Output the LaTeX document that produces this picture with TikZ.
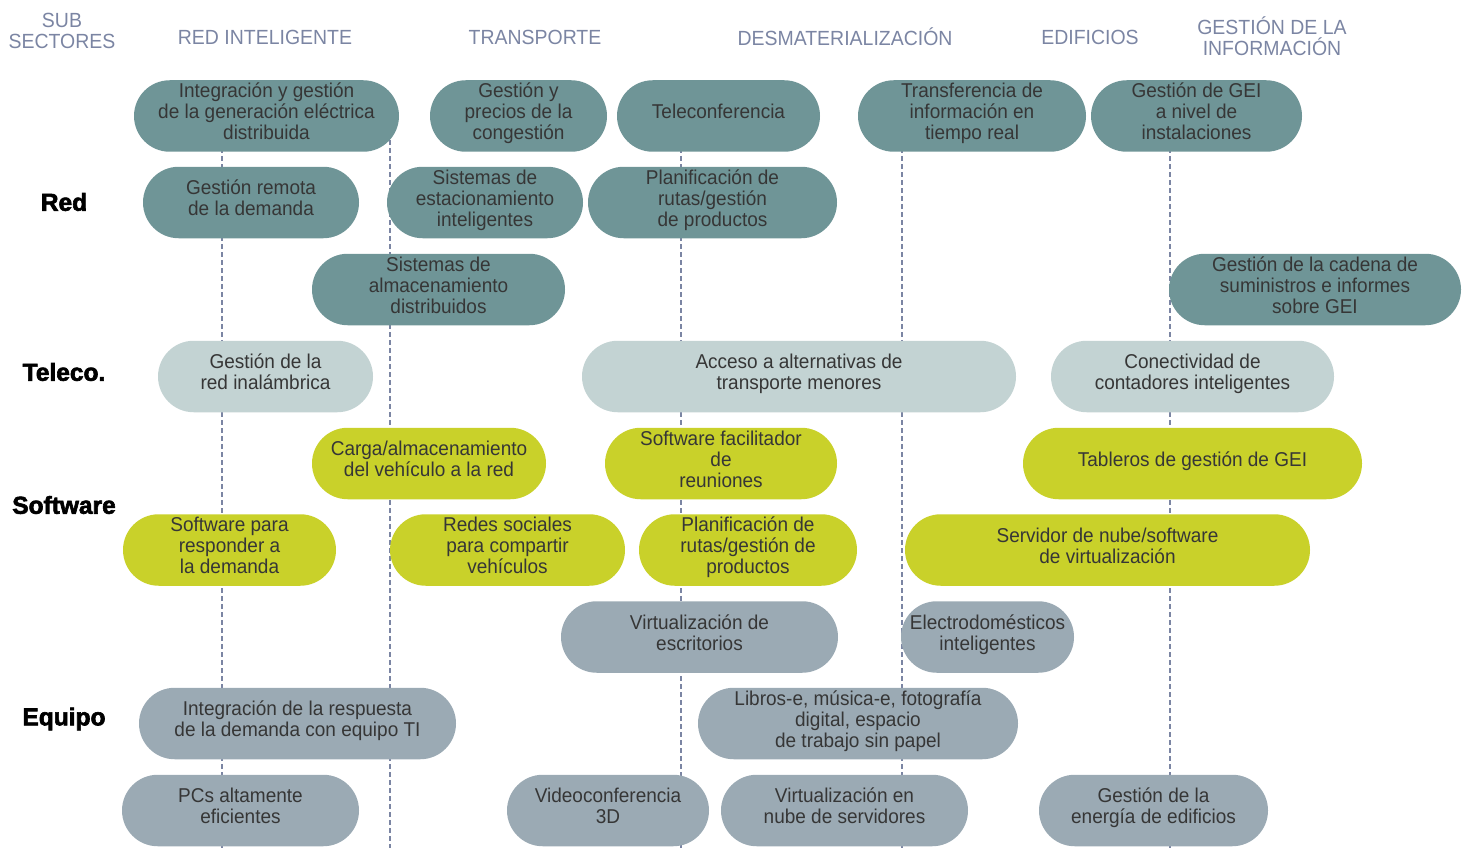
\documentclass[tikz,border=0pt]{standalone}
\usepackage{fontspec}
\setmainfont{Liberation Sans}[FakeStretch=0.95]
\newfontfamily\rowfont{Liberation Sans}[FakeBold=2.5]
\definecolor{cteal}{HTML}{6F9597}
\definecolor{clight}{HTML}{C3D3D3}
\definecolor{cyellow}{HTML}{C9D12A}
\definecolor{cgray}{HTML}{9BAAB4}
\definecolor{ctxt}{HTML}{363636}
\definecolor{chdr}{HTML}{7B85A3}
\tikzset{
  pill/.style={rounded corners=35.75pt, minimum height=71.5pt, inner sep=0pt, align=center,
    text=ctxt, font=\fontsize{20}{21}\selectfont,
    execute at end node={\rule[-9pt]{0pt}{1pt}}},
  rowteal/.style={pill, fill=cteal},
  rowlight/.style={pill, fill=clight},
  rowyellow/.style={pill, fill=cyellow},
  rowgray/.style={pill, fill=cgray},
  hdr/.style={text=chdr, inner sep=0pt, align=center, font=\fontsize{20.5}{21}\selectfont},
  rowlab/.style={text=black, inner sep=0pt, font=\rowfont\bfseries\fontsize{24.5}{25}\selectfont},
  guide/.style={chdr, line width=1.2pt, dash pattern=on 5pt off 3pt}
}
\begin{document}
\begin{tikzpicture}[x=1pt,y=-1pt]
\useasboundingbox (0,0) rectangle (1467,848);
% guide lines
\coordinate (g1a) at (222,140); \coordinate (g1b) at (222,848);
\coordinate (g2a) at (390,140); \coordinate (g2b) at (390,848);
\coordinate (g3a) at (681,140); \coordinate (g3b) at (681,848);
\coordinate (g4a) at (902,140); \coordinate (g4b) at (902,848);
\coordinate (g5a) at (1170,140); \coordinate (g5b) at (1170,848);
\draw[guide] (g1a) -- (g1b);
\draw[guide] (g2a) -- (g2b);
\draw[guide] (g3a) -- (g3b);
\draw[guide] (g4a) -- (g4b);
\draw[guide] (g5a) -- (g5b);
% headers
\node[hdr] (h0) at (62,31) {SUB\\SECTORES};
\node[hdr] (h1) at (265,37) {RED INTELIGENTE};
\node[hdr] (h2) at (535,37) {TRANSPORTE};
\node[hdr] (h3) at (845,37) {DESMATERIALIZACIÓN};
\node[hdr] (h4) at (1090,37) {EDIFICIOS};
\node[hdr] (h5) at (1272,36) {GESTIÓN DE LA\\INFORMACIÓN};
% row labels
\node[rowlab] (lred) at (64,202) {Red};
\node[rowlab] (ltel) at (64,372) {Teleco.};
\node[rowlab] (lsw) at (64,505) {Software};
\node[rowlab] (leq) at (64,719) {Equipo};
% row 1
\node[rowteal, minimum width=265pt] (a1) at (266.5,116) {Integración y gestión\\de la generación eléctrica\\distribuida};
\node[rowteal, minimum width=177pt] (a2) at (518.5,116) {Gestión y\\precios de la\\congestión};
\node[rowteal, minimum width=203pt] (a3) at (718.5,116) {Teleconferencia};
\node[rowteal, minimum width=228pt] (a4) at (972,116) {Transferencia de\\información en\\tiempo real};
\node[rowteal, minimum width=211pt] (a5) at (1196.5,116) {Gestión de GEI\\a nivel de\\instalaciones};
% row 2
\node[rowteal, minimum width=216pt] (b1) at (251,202.5) {Gestión remota\\de la demanda};
\node[rowteal, minimum width=196pt] (b2) at (485,202.5) {Sistemas de\\estacionamiento\\inteligentes};
\node[rowteal, minimum width=249pt] (b3) at (712.5,202.5) {Planificación de\\rutas/gestión\\de productos};
% row 3
\node[rowteal, minimum width=253pt] (c1) at (438.5,289.5) {Sistemas de\\almacenamiento\\distribuidos};
\node[rowteal, minimum width=292pt] (c2) at (1315,289.5) {Gestión de la cadena de\\suministros e informes\\sobre GEI};
% row 4
\node[rowlight, minimum width=215pt] (d1) at (265.5,376.5) {Gestión de la\\red inalámbrica};
\node[rowlight, minimum width=434pt] (d2) at (799,376.5) {Acceso a alternativas de\\transporte menores};
\node[rowlight, minimum width=283pt] (d3) at (1192.5,376.5) {Conectividad de\\contadores inteligentes};
% row 5
\node[rowyellow, minimum width=234pt] (e1) at (429,463.5) {Carga/almacenamiento\\del vehículo a la red};
\node[rowyellow, minimum width=232pt] (e2) at (721,463.5) {Software facilitador\\de\\reuniones};
\node[rowyellow, minimum width=339pt] (e3) at (1192.5,463.5) {Tableros de gestión de GEI};
% row 6
\node[rowyellow, minimum width=213pt] (f1) at (229.5,550) {Software para\\responder a\\la demanda};
\node[rowyellow, minimum width=235pt] (f2) at (507.5,550) {Redes sociales\\para compartir\\vehículos};
\node[rowyellow, minimum width=218pt] (f3) at (748,550) {Planificación de\\rutas/gestión de\\productos};
\node[rowyellow, minimum width=405pt] (f4) at (1107.5,550) {Servidor de nube/software\\de virtualización};
% row 7
\node[rowgray, minimum width=277pt] (g1) at (699.5,637) {Virtualización de\\escritorios};
\node[rowgray, minimum width=173pt] (g2) at (987.5,637) {Electrodomésticos\\inteligentes};
% row 8
\node[rowgray, minimum width=317pt] (h1b) at (297.5,723.5) {Integración de la respuesta\\de la demanda con equipo TI};
\node[rowgray, minimum width=320pt] (h2b) at (858,723.5) {Libros-e, música-e, fotografía\\digital, espacio\\de trabajo sin papel};
% row 9
\node[rowgray, minimum width=237pt] (i1) at (240.5,810.5) {PCs altamente\\eficientes};
\node[rowgray, minimum width=202pt] (i2) at (608,810.5) {Videoconferencia\\3D};
\node[rowgray, minimum width=247pt] (i3) at (844.5,810.5) {Virtualización en\\nube de servidores};
\node[rowgray, minimum width=229pt] (i4) at (1153.5,810.5) {Gestión de la\\energía de edificios};
\end{tikzpicture}
\end{document}
